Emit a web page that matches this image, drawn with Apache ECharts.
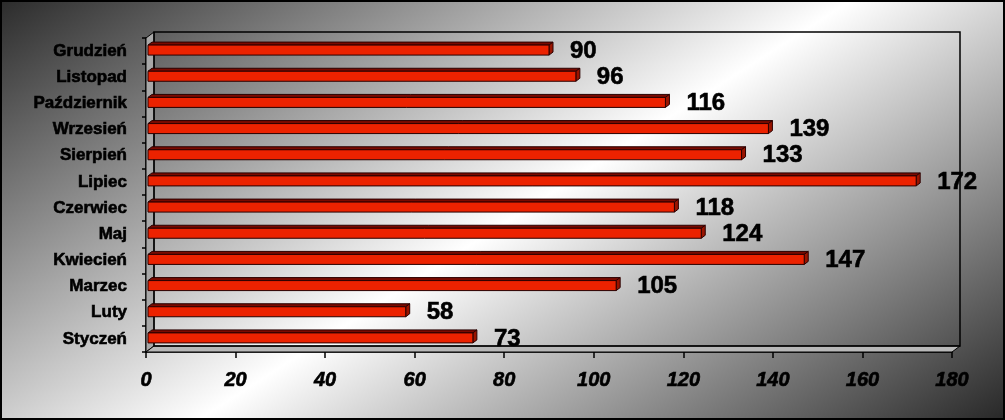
<!DOCTYPE html>
<html>
<head>
<meta charset="utf-8">
<script src="https://cdn.jsdelivr.net/npm/echarts@6/dist/echarts.min.js"></script>
<style>
html,body{margin:0;padding:0;background:#fff;}
#chart{width:1005px;height:420px;}
</style>
</head>
<body>
<div id="chart"></div>
<script>
var categories = ['Styczeń','Luty','Marzec','Kwiecień','Maj','Czerwiec','Lipiec','Sierpień','Wrzesień','Październik','Listopad','Grudzień'];
var values = [73, 58, 105, 147, 124, 118, 172, 133, 139, 116, 96, 90];
var xTicks = { min: 0, max: 180, interval: 20 };

var DX = 8, DY = -6;   // 3D depth of walls
var BDX = 4, BDY = -3; // 3D depth of bars

var chart = echarts.init(document.getElementById('chart'), null, {renderer: 'canvas'});

function renderWalls(params, api) {
  var cs = params.coordSys;
  var x0 = cs.x, y0 = cs.y, x1 = cs.x + cs.width, y1 = cs.y + cs.height;
  return {
    type: 'group',
    children: [
      { type: 'polygon', shape: { points: [[x0, y0], [x0 + DX, y0 + DY], [x0 + DX, y1 + DY], [x0, y1]] },
        style: { fill: '#a8a8a8', stroke: '#000', lineWidth: 1 } },
      { type: 'polygon', shape: { points: [[x0, y1], [x1, y1], [x1 + DX, y1 + DY], [x0 + DX, y1 + DY]] },
        style: { fill: '#b8b8b8', stroke: '#000', lineWidth: 1 } },
      { type: 'rect', shape: { x: x0 + DX, y: y0 + DY, width: cs.width, height: cs.height },
        style: { fill: 'none', stroke: '#000', lineWidth: 1.5 } }
    ]
  };
}

function renderBar(params, api) {
  var v = api.value(1);
  var c = api.coord([0, api.value(0)]);
  var e = api.coord([v, api.value(0)]);
  var xs = c[0] + 2, xe = e[0];
  var cy = c[1] - 1;
  var top = cy - 5, bot = cy + 5;
  return {
    type: 'group',
    children: [
      { type: 'polygon', shape: { points: [[xs, top], [xe, top], [xe + BDX, top + BDY], [xs + BDX, top + BDY]] },
        style: { fill: '#7a0a00', stroke: '#2a0000', lineWidth: 1 } },
      { type: 'polygon', shape: { points: [[xe, top], [xe + BDX, top + BDY], [xe + BDX, bot + BDY], [xe, bot]] },
        style: { fill: '#9a1400', stroke: '#2a0000', lineWidth: 1 } },
      { type: 'rect', shape: { x: xs, y: top, width: xe - xs, height: bot - top },
        style: { fill: '#ec2200', stroke: '#2a0000', lineWidth: 1 } },
      { type: 'text', x: xe + 21, y: cy + 1,
        style: { text: String(v), fill: '#000', font: 'bold 24px "Liberation Sans", Arial, sans-serif',
                 stroke: '#000', lineWidth: 0.6,
                 textAlign: 'left', textVerticalAlign: 'middle' } }
    ]
  };
}

var option = {
  animation: false,
  backgroundColor: {
    type: 'linear', global: true,
    x: 277, y: -176, x2: 773, y2: 596,
    colorStops: [
      { offset: 0, color: '#2c2c2c' },
      { offset: 0.5, color: '#ffffff' },
      { offset: 1, color: '#1c1c1c' }
    ]
  },
  graphic: [
    { type: 'rect', shape: { x: 1, y: 1, width: 1003, height: 418 },
      style: { fill: 'none', stroke: '#000', lineWidth: 2 }, z: 100 }
  ],
  grid: { left: 146, right: 53, top: 38, bottom: 68 },
  xAxis: {
    type: 'value', min: xTicks.min, max: xTicks.max, interval: xTicks.interval,
    splitLine: { show: false },
    axisLine: { show: true, lineStyle: { color: '#000', width: 1.5 } },
    axisTick: { show: true, length: 6, lineStyle: { color: '#000', width: 1.5 } },
    axisLabel: { color: '#000', fontSize: 20, fontWeight: 'bold', fontStyle: 'italic',
                 textBorderColor: '#000', textBorderWidth: 0.6,
                 fontFamily: '"Liberation Sans", Arial, sans-serif', margin: 18 }
  },
  yAxis: {
    type: 'category', data: categories,
    axisLine: { show: true, lineStyle: { color: '#000', width: 1.5 } },
    axisTick: { show: true, length: 4, lineStyle: { color: '#000', width: 1.5 } },
    axisLabel: { color: '#000', fontSize: 17, fontWeight: 'bold',
                 textBorderColor: '#000', textBorderWidth: 0.6,
                 fontFamily: '"Liberation Sans", Arial, sans-serif', margin: 19 }
  },
  series: [
    { type: 'custom', renderItem: renderWalls, data: [[0, 0]], z: 1, silent: true },
    { type: 'custom', renderItem: renderBar,
      encode: { x: 1, y: 0 },
      data: categories.map(function (c, i) { return [i, values[i]]; }), z: 5 }
  ]
};
chart.setOption(option);
</script>
</body>
</html>
